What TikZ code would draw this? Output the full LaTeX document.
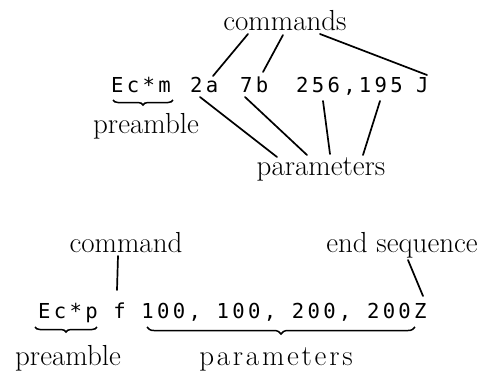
\documentclass[tikz,border=0pt]{standalone}
\usepackage{fontspec}
\setmainfont{Latin Modern Roman}
\newfontfamily\monof[LetterSpace=16]{DejaVu Sans Mono}
\newfontfamily\widef[LetterSpace=9.5]{Latin Modern Roman}
\usetikzlibrary{decorations.pathreplacing}
\tikzset{
  lbl/.style={inner sep=0pt, anchor=base, font=\fontsize{29}{32}\selectfont},
  code/.style={inner sep=0pt, anchor=base west, font=\fontsize{20.6}{24}\monof},
  conn/.style={line width=1.7pt, line cap=round},
  brc/.style={line width=1.5pt, decorate, decoration={brace, mirror, amplitude=5pt}}
}
\begin{document}
\begin{tikzpicture}[x=1pt, y=-1pt]
\useasboundingbox (0,0) rectangle (488,373);
% ---- first example ----
\node[lbl] (cmds) at (285,30) {commands};
\node[code] (ecm) at (111,92) {Ec*m};
\node[code] (p2a) at (190,92) {2a};
\node[code] (p7b) at (240,92) {7b};
\node[code] (p256) at (296,92) {256,195};
\node[code] (pJ) at (416,92) {J};
\node[lbl] (pre1) at (146,133) {preamble};
\node[lbl] (par1) at (321,175) {parameters};
\coordinate (c1) at (248,34);
\coordinate (c2) at (283,35);
\coordinate (c3) at (320,34);
\coordinate (t2a) at (213,76);
\coordinate (t7b) at (263,72);
\coordinate (tJ) at (427,75);
\draw[conn] (c1) -- (t2a);
\draw[conn] (c2) -- (t7b);
\draw[conn] (c3) -- (tJ);
\coordinate (b2a) at (200,97);
\coordinate (b7b) at (245,97);
\coordinate (b256) at (323,101);
\coordinate (b195) at (380,101);
\coordinate (q1) at (277,157);
\coordinate (q2) at (307,155);
\coordinate (q3) at (330,154);
\coordinate (q4) at (363,155);
\draw[conn] (b2a) -- (q1);
\draw[conn] (b7b) -- (q2);
\draw[conn] (b256) -- (q3);
\draw[conn] (b195) -- (q4);
\coordinate (bra) at (113,100);
\coordinate (brb) at (173,100);
\draw[brc] (bra) -- (brb);
% ---- second example ----
\node[lbl] (cmd2) at (126,252) {command};
\node[lbl] (endseq) at (402,252) {end sequence};
\node[code] (line2) at (38,318) {Ec*p f 100, 100, 200, 200Z};
\node[lbl] (pre2) at (68,365) {preamble};
\node[lbl, font=\fontsize{29}{32}\widef] (par2) at (276,365) {parameters};
\coordinate (d1) at (118,256);
\coordinate (d2) at (117,290);
\draw[conn] (d1) -- (d2);
\coordinate (e1) at (408,260);
\coordinate (e2) at (423,296);
\draw[conn] (e1) -- (e2);
\coordinate (brc1) at (35,327);
\coordinate (brc2) at (97,327);
\draw[brc] (brc1) -- (brc2);
\coordinate (brd1) at (147,327);
\coordinate (brd2) at (415,327);
\draw[brc, decoration={amplitude=7pt}] (brd1) -- (brd2);
\end{tikzpicture}
\end{document}
